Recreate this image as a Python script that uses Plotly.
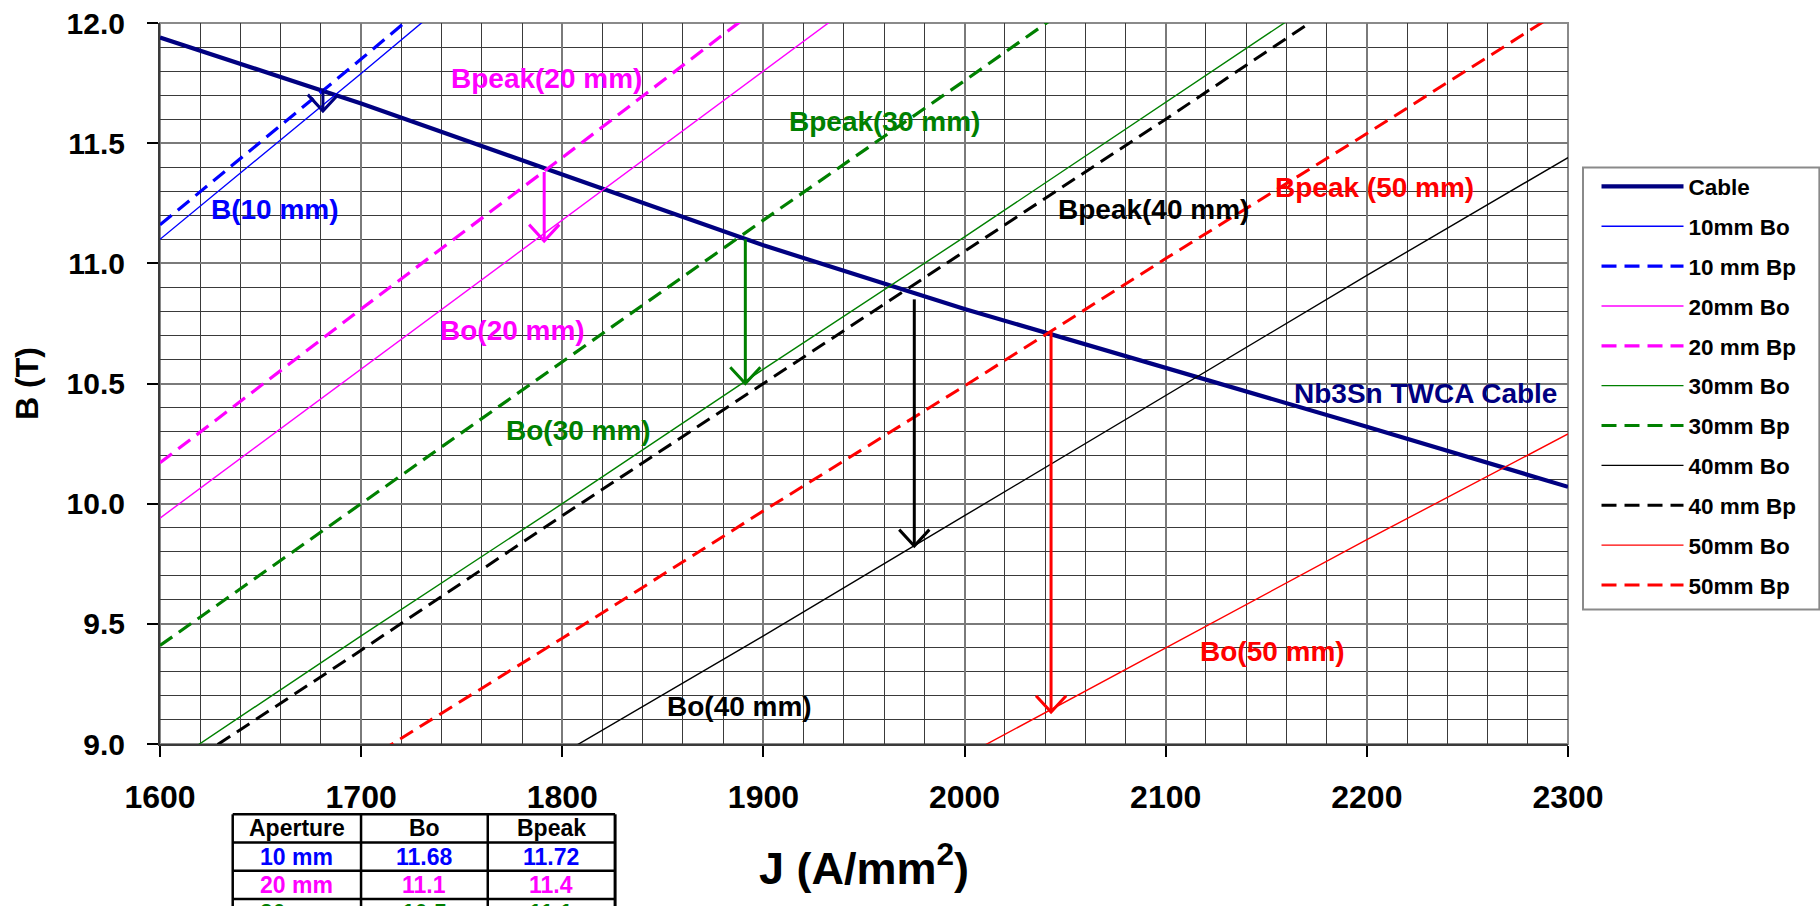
import plotly.graph_objects as go

# ---------------- data ----------------
cable_J = [1600, 1700, 1800, 1900, 2000, 2100, 2200, 2300]
cable_B = [11.94, 11.665, 11.37, 11.075, 10.81, 10.565, 10.32, 10.07]

bo10_J = [1600, 1700, 1800]
bo10_B = [11.10, 11.79, 12.49]
bp10_J = [1600, 1700, 1800]
bp10_B = [11.16, 11.85, 12.55]

bo20_J = [1600, 1700, 1800, 1900, 2000]
bo20_B = [9.94, 10.56, 11.18, 11.80, 12.42]
bp20_J = [1600, 1700, 1800, 1900]
bp20_B = [10.17, 10.81, 11.44, 12.08]

bo30_J = [1600, 1700, 1800, 1900, 2000, 2100, 2200]
bo30_B = [8.89, 9.45, 10.00, 10.56, 11.11, 11.67, 12.23]
bp30_J = [1600, 1700, 1800, 1900, 2000, 2100]
bp30_B = [9.41, 10.00, 10.59, 11.18, 11.76, 12.35]

bo40_J = [1800, 1900, 2000, 2100, 2200, 2300]
bo40_B = [8.96, 9.45, 9.95, 10.45, 10.95, 11.44]
bp40_J = [1600, 1700, 1800, 1900, 2000, 2100, 2200]
bp40_B = [8.84, 9.39, 9.95, 10.50, 11.05, 11.60, 12.16]

bo50_J = [2000, 2100, 2200, 2300]
bo50_B = [8.95, 9.40, 9.85, 10.29]
bp50_J = [1700, 1800, 1900, 2000, 2100, 2200, 2300]
bp50_B = [8.92, 9.44, 9.97, 10.49, 11.02, 11.54, 12.07]

# arrows: J position, start (on cable / Bpeak) and tip (Bo)
arrow_J = [1681, 1791, 1891, 1975, 2043]
arrow_top = [11.727, 11.38, 11.10, 10.85, 10.717]
arrow_tip = [11.634, 11.093, 10.50, 9.824, 9.133]
arrow_colors = ["#000080", "#FF00FF", "#008000", "#000000", "#FF0000"]

# in-plot labels
label_text = ["B(10 mm)", "Bpeak(20 mm)", "Bo(20 mm)", "Bpeak(30 mm)", "Bo(30 mm)",
              "Bpeak(40 mm)", "Bo(40 mm)", "Bpeak (50 mm)", "Bo(50 mm)", "Nb3Sn TWCA Cable"]
label_J = [1657, 1792, 1775, 1960, 1808, 2094, 1888, 2204, 2153, 2229]
label_B = [11.225, 11.77, 10.72, 11.59, 10.305, 11.225, 9.155, 11.315, 9.385, 10.46]
label_colors = ["#0000FF", "#FF00FF", "#FF00FF", "#008000", "#008000",
                "#000000", "#000000", "#FF0000", "#FF0000", "#000080"]

# table below the chart
table_header = ["Aperture", "Bo", "Bpeak"]
table_aperture = ["10 mm", "20 mm", "30 mm"]
table_bo = ["11.68", "11.1", "10.5"]
table_bpeak = ["11.72", "11.4", "11.1"]
table_colors = ["#0000FF", "#FF00FF", "#008000"]

# ---------------- styling ----------------
FONT = "Liberation Sans, Arial, sans-serif"
W, H = 1820, 906
L, R, T, B = 160.0, 1567.7, 22.7, 743.7   # plot area in pixels


def px_x(p):
    return (p - L) / (R - L)


def px_y(p):
    return (B - p) / (B - T)


series = [
    ("Cable", cable_J, cable_B, "#000080", 4.2, "solid"),
    ("10mm Bo", bo10_J, bo10_B, "#0000FF", 1.4, "solid"),
    ("10 mm Bp", bp10_J, bp10_B, "#0000FF", 3.2, "15px,8px"),
    ("20mm Bo", bo20_J, bo20_B, "#FF00FF", 1.4, "solid"),
    ("20 mm Bp", bp20_J, bp20_B, "#FF00FF", 3.2, "15px,8px"),
    ("30mm Bo", bo30_J, bo30_B, "#008000", 1.4, "solid"),
    ("30mm Bp", bp30_J, bp30_B, "#008000", 3.2, "15px,8px"),
    ("40mm Bo", bo40_J, bo40_B, "#000000", 1.4, "solid"),
    ("40 mm Bp", bp40_J, bp40_B, "#000000", 3.0, "15px,8px"),
    ("50mm Bo", bo50_J, bo50_B, "#FF0000", 1.4, "solid"),
    ("50mm Bp", bp50_J, bp50_B, "#FF0000", 3.0, "15px,8px"),
]

fig = go.Figure()
for i, (name, xs, ys, col, w, dash) in enumerate(series):
    fig.add_trace(go.Scatter(x=xs, y=ys, mode="lines", name=name,
                             legendgroup=str(i),
                             line=dict(color=col, width=w, dash=dash)))

# arrows (shaft + open V head)
HEAD_DX = 7.5    # J units
HEAD_DY = 0.068  # T
for j, top, tip, col in zip(arrow_J, arrow_top, arrow_tip, arrow_colors):
    fig.add_trace(go.Scatter(
        x=[j, j, None, j - HEAD_DX, j, j + HEAD_DX],
        y=[top, tip, None, tip + HEAD_DY, tip, tip + HEAD_DY],
        mode="lines", showlegend=False, hoverinfo="skip",
        line=dict(color=col, width=3)))

annotations = []
for t, x, y, c in zip(label_text, label_J, label_B, label_colors):
    annotations.append(dict(x=x, y=y, xref="x", yref="y", text=t, showarrow=False,
                            xanchor="center", yanchor="middle",
                            font=dict(family=FONT, size=28, color=c, weight="bold")))

# table
col_edges = [232.7, 361.0, 487.7, 615.0]
row_h = 28.2
row_top = 814.0
n_rows = 1 + len(table_aperture)
shapes = []
for k in range(n_rows + 1):
    yy = px_y(row_top + k * row_h)
    shapes.append(dict(type="line", xref="paper", yref="paper",
                       x0=px_x(col_edges[0]), x1=px_x(col_edges[-1]), y0=yy, y1=yy,
                       line=dict(color="black", width=2.5)))
for ce in col_edges:
    shapes.append(dict(type="line", xref="paper", yref="paper",
                       x0=px_x(ce), x1=px_x(ce), y0=px_y(row_top), y1=px_y(row_top + n_rows * row_h),
                       line=dict(color="black", width=3 if ce == col_edges[-1] else 2.5)))

rows = [(table_header, "#000000")] + [
    ([a, b, p], c) for a, b, p, c in zip(table_aperture, table_bo, table_bpeak, table_colors)]
for r, (cells, c) in enumerate(rows):
    yc = row_top + (r + 0.5) * row_h
    for ci, txt in enumerate(cells):
        xc = (col_edges[ci] + col_edges[ci + 1]) / 2
        annotations.append(dict(x=px_x(xc), y=px_y(yc), xref="paper", yref="paper",
                                text=txt, showarrow=False, xanchor="center", yanchor="middle",
                                font=dict(family=FONT, size=23, color=c, weight="bold")))

# frame (top/right border in grey)
shapes.append(dict(type="rect", xref="paper", yref="paper", x0=0, x1=1, y0=0, y1=1,
                   line=dict(color="#8a8a8a", width=2), layer="below"))
# legend box
shapes.append(dict(type="rect", xref="paper", yref="paper",
                   x0=px_x(1582.7), x1=px_x(1819.0), y0=px_y(609.3), y1=px_y(167.3),
                   line=dict(color="#8a8a8a", width=2), fillcolor="white", layer="above"))

fig.update_layout(
    width=W, height=H,
    margin=dict(l=L, r=W - R, t=T, b=H - B, autoexpand=False),
    paper_bgcolor="white", plot_bgcolor="white",
    font=dict(family=FONT, color="black"),
    showlegend=True,
    legend=dict(x=px_x(1596.2), y=px_y(165.0), xanchor="left", yanchor="top",
                borderwidth=0, bgcolor="rgba(0,0,0,0)",
                font=dict(family=FONT, size=22.5, color="black", weight="bold"),
                tracegroupgap=7.6, itemwidth=82),
    annotations=annotations,
    shapes=shapes,
)

fig.update_xaxes(range=[1600, 2300], dtick=100, tick0=1600,
                 showgrid=True, gridcolor="#7a7a7a", gridwidth=2,
                 minor=dict(dtick=20, showgrid=True, gridcolor="#3a3a3a", gridwidth=1),
                 showline=True, linecolor="#3a3a3a", linewidth=2,
                 ticks="outside", ticklen=11, tickwidth=1.5, tickcolor="black",
                 tickfont=dict(family=FONT, size=32, color="black", weight="bold"),
                 ticklabelstandoff=13, zeroline=False,
                 title=dict(text="J (A/mm<sup>2</sup>)", standoff=38,
                            font=dict(family=FONT, size=45, color="black", weight="bold")))
fig.update_yaxes(range=[9, 12], dtick=0.5, tick0=9, tickformat=".1f",
                 showgrid=True, gridcolor="#7a7a7a", gridwidth=2,
                 minor=dict(dtick=0.1, showgrid=True, gridcolor="#3a3a3a", gridwidth=1),
                 showline=True, linecolor="#3a3a3a", linewidth=2,
                 ticks="outside", ticklen=11, tickwidth=1.5, tickcolor="black",
                 tickfont=dict(family=FONT, size=30, color="black", weight="bold"),
                 ticklabelstandoff=16, zeroline=False,
                 title=dict(text="B (T)", standoff=18,
                            font=dict(family=FONT, size=32, color="black", weight="bold")))

fig.write_html("out.html", config={"displayModeBar": False},
               post_script="document.body.style.margin='0';document.body.style.overflow='hidden';")
